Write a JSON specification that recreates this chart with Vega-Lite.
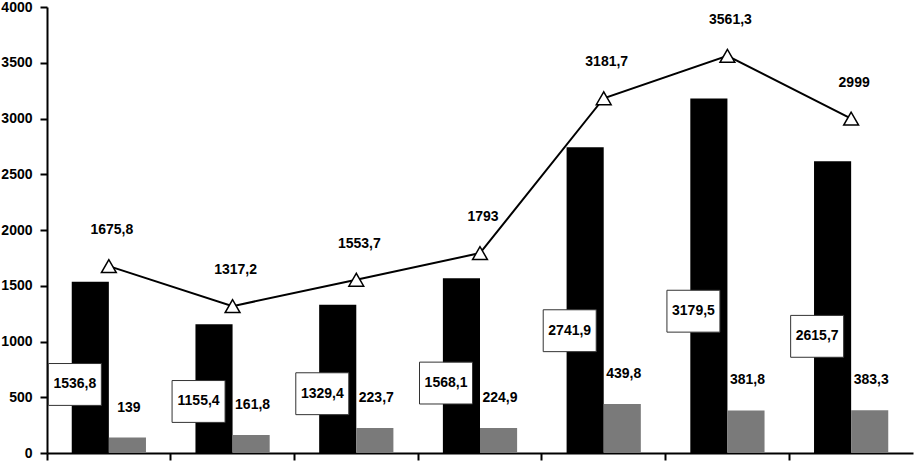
{
  "$schema": "https://vega.github.io/schema/vega-lite/v6.json",
  "width": 917,
  "height": 461,
  "autosize": {"type": "fit", "contains": "padding"},
  "padding": {"left": 0, "top": 0, "right": 4, "bottom": 0},
  "background": "white",
  "config": {
    "view": {"stroke": null},
    "locale": {"number": {"decimal": ",", "thousands": "", "grouping": [3], "currency": ["", ""]}},
    "font": "Liberation Sans, Arial, sans-serif",
    "axis": {"grid": false, "title": null, "domainColor": "black", "domainWidth": 2, "tickColor": "black", "tickWidth": 2, "labelColor": "black", "labelFont": "Liberation Sans, Arial, sans-serif", "labelFontWeight": "bold", "labelFontSize": 14}
  },
  "data": {
    "values": [
      {"cat": "1", "main": 1536.8, "extra": 139, "total": 1675.8},
      {"cat": "2", "main": 1155.4, "extra": 161.8, "total": 1317.2},
      {"cat": "3", "main": 1329.4, "extra": 223.7, "total": 1553.7},
      {"cat": "4", "main": 1568.1, "extra": 224.9, "total": 1793},
      {"cat": "5", "main": 2741.9, "extra": 439.8, "total": 3181.7},
      {"cat": "6", "main": 3179.5, "extra": 381.8, "total": 3561.3},
      {"cat": "7", "main": 2615.7, "extra": 383.3, "total": 2999}
    ]
  },
  "encoding": {
    "x": {
      "field": "cat", "type": "nominal", "sort": null,
      "scale": {"paddingInner": 0.4, "paddingOuter": 0.2},
      "axis": {"labels": false, "tickSize": 7, "bandPosition": -0.3333, "title": null}
    }
  },
  "layer": [
    {
      "transform": [{"fold": ["main", "extra"], "as": ["series", "value"]}],
      "mark": {"type": "bar"},
      "encoding": {
        "xOffset": {"field": "series", "type": "nominal", "scale": {"domain": ["main", "extra"]}},
        "y": {"field": "value", "type": "quantitative", "title": null, "scale": {"domain": [0, 4000]}, "axis": {"values": [0, 500, 1000, 1500, 2000, 2500, 3000, 3500, 4000], "format": "d", "tickSize": 7, "labelPadding": 8}},
        "color": {"field": "series", "type": "nominal", "scale": {"domain": ["main", "extra"], "range": ["#000000", "#7a7a7a"]}, "legend": null}
      }
    },
    {
      "transform": [{"calculate": "datum.main * 0.4", "as": "ly"}],
      "mark": {"type": "point", "shape": "M-2.283,-0.79H-0.283V0.79H-2.283Z", "size": 2809, "filled": true, "fill": "white", "stroke": "#333333", "strokeWidth": 1, "opacity": 1},
      "encoding": {
        "y": {"field": "ly", "type": "quantitative", "title": null}
      }
    },
    {
      "transform": [{"calculate": "datum.main * 0.4", "as": "ly"}],
      "mark": {"type": "text", "dx": -34, "baseline": "middle", "align": "center", "fontSize": 14, "fontWeight": "bold", "color": "black"},
      "encoding": {
        "y": {"field": "ly", "type": "quantitative", "title": null},
        "text": {"field": "main", "type": "quantitative", "format": ".1~f"}
      }
    },
    {
      "mark": {"type": "text", "dx": 20, "dy": -30, "baseline": "middle", "align": "center", "fontSize": 14, "fontWeight": "bold", "color": "black"},
      "encoding": {
        "y": {"field": "extra", "type": "quantitative", "title": null},
        "text": {"field": "extra", "type": "quantitative", "format": ".1~f"}
      }
    },
    {
      "mark": {"type": "line", "color": "black", "strokeWidth": 2},
      "encoding": {
        "y": {"field": "total", "type": "quantitative", "title": null}
      }
    },
    {
      "mark": {"type": "point", "shape": "triangle-up", "size": 220, "filled": true, "fill": "white", "stroke": "black", "strokeWidth": 1.5, "opacity": 1},
      "encoding": {
        "y": {"field": "total", "type": "quantitative", "title": null}
      }
    },
    {
      "mark": {"type": "text", "dx": 3, "dy": -36, "baseline": "middle", "align": "center", "fontSize": 14, "fontWeight": "bold", "color": "black"},
      "encoding": {
        "y": {"field": "total", "type": "quantitative", "title": null},
        "text": {"field": "total", "type": "quantitative", "format": ".1~f"}
      }
    }
  ]
}
